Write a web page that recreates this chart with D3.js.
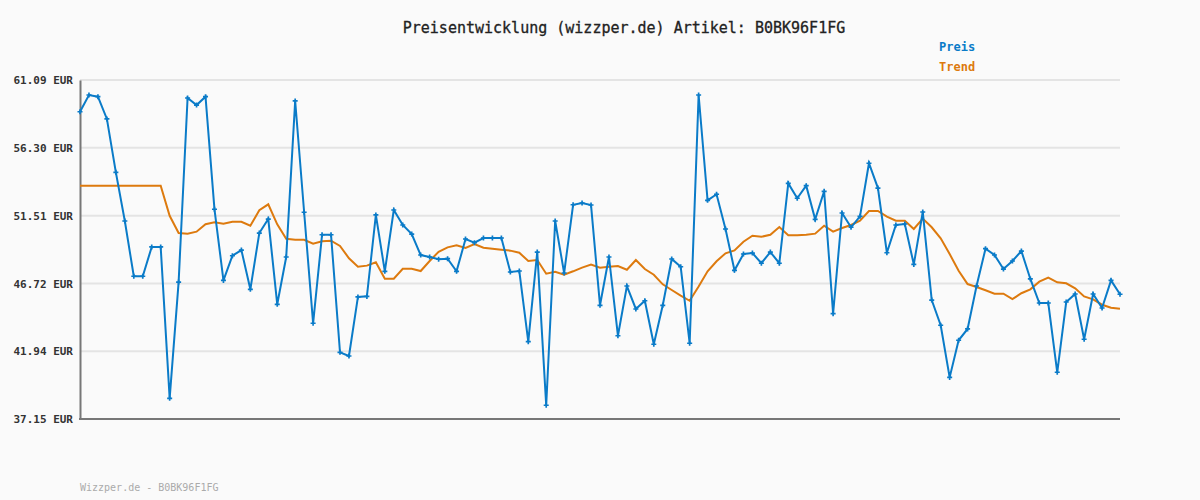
<!DOCTYPE html>
<html><head><meta charset="utf-8">
<script src="https://cdn.jsdelivr.net/npm/d3@7"></script>
<style>body{margin:0;background:#fafafa}</style></head>
<body><svg id="c" width="1200" height="500"></svg>
<script>
const title = "Preisentwicklung (wizzper.de) Artikel: B0BK96F1FG";
const footer = "Wizzper.de - B0BK96F1FG";
const yTicks = [37.15, 41.94, 46.72, 51.51, 56.30, 61.09];
const preis = [58.85,60.03,59.91,58.34,54.57,51.13,47.23,47.23,49.30,49.30,38.61,46.82,59.82,59.32,59.91,51.96,46.94,48.68,49.08,46.31,50.28,51.27,45.25,48.59,59.61,51.75,43.91,50.16,50.16,41.86,41.60,45.77,45.81,51.56,47.58,51.91,50.85,50.21,48.73,48.59,48.43,48.47,47.58,49.86,49.60,49.93,49.93,49.93,47.53,47.60,42.61,48.94,38.12,51.13,47.46,52.28,52.40,52.26,45.18,48.59,43.03,46.54,44.92,45.50,42.43,45.18,48.45,47.90,42.50,60.03,52.59,53.02,50.57,47.65,48.80,48.87,48.15,48.94,48.15,53.79,52.74,53.63,51.25,53.23,44.59,51.70,50.69,51.46,55.21,53.46,48.89,50.85,50.92,48.07,51.77,45.55,43.77,40.09,42.71,43.51,46.54,49.18,48.73,47.74,48.31,49.01,47.04,45.34,45.34,40.45,45.41,45.98,42.78,45.98,44.99,46.94,45.96];
const trend = [53.63,53.63,53.63,53.63,53.63,53.63,53.63,53.63,53.63,53.63,51.5,50.28,50.24,50.38,50.90,51.04,50.94,51.08,51.08,50.80,51.89,52.31,50.90,49.88,49.81,49.81,49.53,49.70,49.74,49.37,48.50,47.90,47.98,48.22,47.06,47.06,47.76,47.76,47.60,48.31,48.96,49.27,49.42,49.23,49.51,49.25,49.18,49.11,49.04,48.89,48.31,48.38,47.41,47.55,47.34,47.58,47.84,48.05,47.84,47.90,47.95,47.69,48.38,47.74,47.34,46.66,46.26,45.86,45.50,46.50,47.58,48.29,48.85,49.06,49.67,50.09,50.02,50.16,50.71,50.12,50.12,50.16,50.24,50.80,50.38,50.64,50.85,51.15,51.84,51.84,51.44,51.15,51.15,50.57,51.30,50.69,49.91,48.80,47.62,46.68,46.47,46.24,46.00,46.00,45.62,46.03,46.31,46.85,47.13,46.80,46.73,46.38,45.81,45.60,45.22,45.01,44.94];
const blue="#0a7bc8", orange="#dd7a0e";
const svg=d3.select("#c");
svg.append("rect").attr("width",1200).attr("height",500).attr("fill","#fafafa");
const x=d3.scaleLinear().domain([0,preis.length-1]).range([80,1120]);
const y=d3.scaleLinear().domain([37.15,61.09]).range([419,80]);
const font="'DejaVu Sans Mono', monospace";
svg.selectAll(".g").data(yTicks.slice(1)).join("line").attr("x1",80).attr("x2",1120)
 .attr("y1",d=>y(d)).attr("y2",d=>y(d)).attr("stroke","#e4e4e4").attr("stroke-width",2);
const ya=svg.append("g").attr("transform","translate(80,0)").call(d3.axisLeft(y).tickValues(yTicks).tickSize(0).tickPadding(7).tickFormat(d=>d.toFixed(2)+" EUR"));
ya.select(".domain").attr("stroke","#777").attr("stroke-width",2);
ya.selectAll("text").attr("font-family",font).attr("font-size",11).attr("font-weight","bold").attr("fill","#333");
svg.append("line").attr("x1",79).attr("x2",1120).attr("y1",419).attr("y2",419).attr("stroke","#777").attr("stroke-width",2);
const line=d3.line().x((d,i)=>x(i)).y(d=>y(d));
svg.append("path").datum(trend).attr("d",line).attr("fill","none").attr("stroke",orange).attr("stroke-width",2);
svg.append("path").datum(preis).attr("d",line).attr("fill","none").attr("stroke",blue).attr("stroke-width",2);
svg.selectAll(".m").data(preis).join("path").attr("d",d3.symbol(d3.symbolCross,14))
 .attr("transform",(d,i)=>`translate(${x(i)},${y(d)})`).attr("fill",blue);
svg.append("text").attr("x",624).attr("y",33).attr("text-anchor","middle").attr("font-family",font).attr("font-size",15).attr("font-weight","500").attr("stroke","#222").attr("stroke-width",0.3).attr("fill","#222").text(title);
svg.append("text").attr("x",939).attr("y",51).attr("font-family",font).attr("font-size",12).attr("font-weight","bold").attr("fill",blue).text("Preis");
svg.append("text").attr("x",939).attr("y",71).attr("font-family",font).attr("font-size",12).attr("font-weight","bold").attr("fill",orange).text("Trend");
svg.append("text").attr("x",80).attr("y",491).attr("font-family",font).attr("font-size",10).attr("fill","#aaa").text(footer);
</script></body></html>
